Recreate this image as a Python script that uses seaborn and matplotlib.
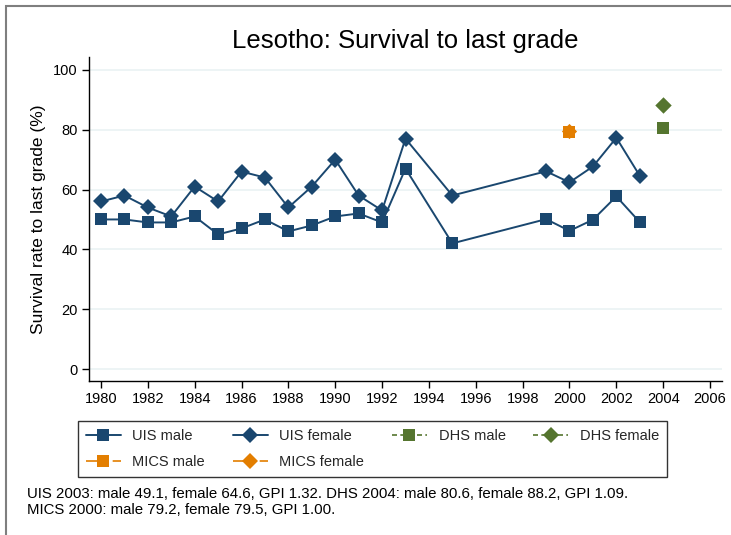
import pandas as pd
import seaborn as sns
import matplotlib.pyplot as plt
from matplotlib.lines import Line2D
from matplotlib.patches import Rectangle

# Data
uis_years = [1980, 1981, 1982, 1983, 1984, 1985, 1986, 1987, 1988, 1989, 1990,
             1991, 1992, 1993, 1995, 1999, 2000, 2001, 2002, 2003]
uis_male = [50, 50, 49, 49, 51, 45, 47, 50, 46, 48, 51,
            52, 49, 67, 42, 50.1, 46.2, 49.9, 57.7, 49.1]
uis_female = [56, 58, 54, 51, 61, 56, 66, 64, 54, 61, 70,
              58, 53, 77, 58, 66.1, 62.4, 67.7, 77.3, 64.6]

dhs_year = [2004]
dhs_male = [80.6]
dhs_female = [88.2]

mics_year = [2000]
mics_male = [79.2]
mics_female = [79.5]

year_ticks = list(range(1980, 2007, 2))
pct_ticks = [0, 20, 40, 60, 80, 100]

navy = '#1a476f'
green = '#55752f'
orange = '#e37e00'

# long table for the UIS series
uis = pd.concat([
    pd.DataFrame({'year': uis_years, 'rate': uis_male, 'series': 'UIS male'}),
    pd.DataFrame({'year': uis_years, 'rate': uis_female, 'series': 'UIS female'}),
])

sns.set_theme(style='white')
plt.rcParams['font.family'] = ['Liberation Sans', 'DejaVu Sans']

fig = plt.figure(figsize=(7.31, 5.35), dpi=100)
ax = fig.add_axes([89 / 731, 1 - 381 / 535, (722 - 89) / 731, (381 - 57) / 535])

sns.lineplot(data=uis, x='year', y='rate', hue='series', style='series',
             palette={'UIS male': navy, 'UIS female': navy},
             markers={'UIS male': 's', 'UIS female': 'D'}, dashes=False,
             markersize=8, markeredgewidth=0, linewidth=1.4, legend=False, ax=ax)

# diamond first, square on top -> the overlapping MICS point looks like a house
sns.scatterplot(x=mics_year, y=mics_female, marker='D', color=orange, s=60,
                linewidth=0, ax=ax, zorder=3)
sns.scatterplot(x=mics_year, y=mics_male, marker='s', color=orange, s=64,
                linewidth=0, ax=ax, zorder=3)
sns.scatterplot(x=dhs_year, y=dhs_male, marker='s', color=green, s=64,
                linewidth=0, ax=ax, zorder=3)
sns.scatterplot(x=dhs_year, y=dhs_female, marker='D', color=green, s=70,
                linewidth=0, ax=ax, zorder=3)

ax.set_xlim(1979.49, 2006.51)
ax.set_ylim(-4, 104.3)
ax.set_xticks(year_ticks)
ax.set_yticks(pct_ticks)
ax.yaxis.grid(True, color='#eaf2f3', linewidth=1.2)
ax.set_axisbelow(True)
for side in ['top', 'right']:
    ax.spines[side].set_visible(False)
for side in ['left', 'bottom']:
    ax.spines[side].set_color('black')
    ax.spines[side].set_linewidth(1.0)
ax.tick_params(axis='both', direction='out', length=5, width=1, color='black',
               labelsize=10.5, labelcolor='black', pad=3, left=True, bottom=True)
ax.set_xlabel('')
ax.set_ylabel('Survival rate to last grade (%)', fontsize=12.5, color='black', labelpad=5)

fig.text(405 / 731, 1 - 41 / 535, 'Lesotho: Survival to last grade',
         ha='center', va='center', fontsize=18.5, color='black')

# legend (order chosen so the 4-column layout fills row by row)
h = {
    'UIS male': Line2D([], [], color=navy, lw=1.4, marker='s', ms=8, mew=0),
    'UIS female': Line2D([], [], color=navy, lw=1.4, marker='D', ms=8, mew=0),
    'DHS male': Line2D([], [], color=green, lw=1.2, ls=(0, (3, 2)), marker='s', ms=8, mew=0),
    'DHS female': Line2D([], [], color=green, lw=1.2, ls=(0, (3, 2)), marker='D', ms=8, mew=0),
    'MICS male': Line2D([], [], color=orange, lw=1.2, ls=(0, (9, 3, 1, 3)), marker='s', ms=8, mew=0),
    'MICS female': Line2D([], [], color=orange, lw=1.2, ls=(0, (9, 3, 1, 3)), marker='D', ms=8, mew=0),
}
order = ['UIS male', 'MICS male', 'UIS female', 'MICS female', 'DHS male', 'DHS female']
leg = fig.legend([h[k] for k in order], order, ncol=4, loc='center',
                 bbox_to_anchor=(372.5 / 731, 1 - 449 / 535), fontsize=10.5,
                 frameon=True, fancybox=False, edgecolor='black', handlelength=2.4,
                 handletextpad=0.8, columnspacing=1.9, labelspacing=0.8,
                 borderpad=0.55)
leg.get_frame().set_linewidth(1.0)

fig.text(27 / 731, 1 - 494 / 535,
         'UIS 2003: male 49.1, female 64.6, GPI 1.32. DHS 2004: male 80.6, female 88.2, GPI 1.09.',
         ha='left', va='center', fontsize=10.8, color='black')
fig.text(27 / 731, 1 - 510 / 535,
         'MICS 2000: male 79.2, female 79.5, GPI 1.00.',
         ha='left', va='center', fontsize=10.8, color='black')

# gray frame along the left and top edges
fig.add_artist(Rectangle((6 / 731, -0.5), 2, 1.5 - 6 / 535, transform=fig.transFigure,
                         fill=False, edgecolor='#7f7f7f', linewidth=1.5))

fig.savefig('out.png', dpi=100)
